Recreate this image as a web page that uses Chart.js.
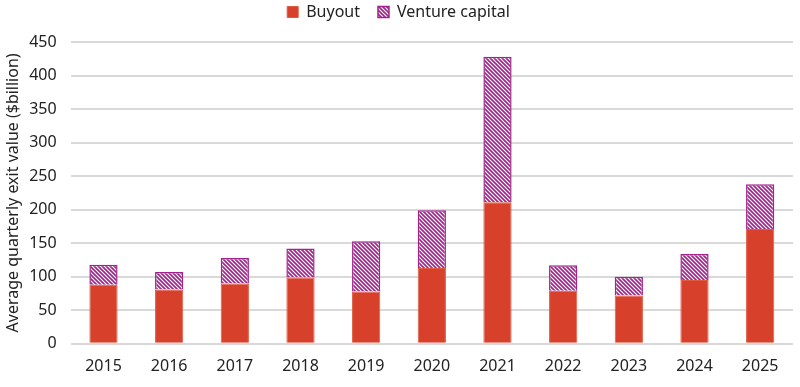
<!DOCTYPE html>
<html>
<head>
<meta charset="utf-8">
<script src="https://cdn.jsdelivr.net/npm/chart.js@4"></script>
<style>
  html, body { margin: 0; padding: 0; background: #fff; }
  #wrap { width: 800px; height: 387px; }
</style>
</head>
<body>
<div id="wrap"><canvas id="exits"></canvas></div>
<script>
const years = ['2015', '2016', '2017', '2018', '2019', '2020', '2021', '2022', '2023', '2024', '2025'];
const buyout = [88, 81, 90, 99, 78, 113, 211, 79, 72, 95, 171];
const ventureCapital = [30, 26, 38, 43, 75, 86, 217, 38, 28, 39, 67];
const yTicks = [0, 50, 100, 150, 200, 250, 300, 350, 400, 450];

const RED = '#d7402a';
const PURPLE = '#a2238e';

function makeHatch() {
    const size = 4;
    const c = document.createElement('canvas');
    c.width = size;
    c.height = size;
    const g = c.getContext('2d');
    g.fillStyle = '#fff';
    g.fillRect(0, 0, size, size);
    g.strokeStyle = PURPLE;
    g.lineWidth = 1.7;
    g.beginPath();
    g.moveTo(-1, -1); g.lineTo(size + 1, size + 1);
    g.moveTo(-1, size - 1); g.lineTo(1, size + 1);
    g.moveTo(size - 1, -1); g.lineTo(size + 1, 1);
    g.stroke();
    return g.createPattern(c, 'repeat');
}

// extra gap between the legend and the plot area
const legendGap = {
    id: 'legendGap',
    beforeInit(chart) {
        const fit = chart.legend.fit;
        chart.legend.fit = function () {
            fit.call(this);
            this.height += 12;
        };
    }
};

const font = "'Noto Sans', 'Open Sans', sans-serif";
Chart.defaults.font.family = font;
Chart.defaults.color = '#222';

new Chart(document.getElementById('exits'), {
    type: 'bar',
    data: {
        labels: years,
        datasets: [
            {
                label: 'Buyout',
                data: buyout,
                backgroundColor: RED,
                borderColor: '#e05a40',
                borderWidth: 1,
                categoryPercentage: 0.86,
                barPercentage: 0.5
            },
            {
                label: 'Venture capital',
                data: ventureCapital,
                backgroundColor: makeHatch(),
                borderColor: PURPLE,
                borderWidth: 1.5,
                categoryPercentage: 0.86,
                barPercentage: 0.5
            }
        ]
    },
    plugins: [legendGap],
    options: {
        responsive: true,
        maintainAspectRatio: false,
        animation: false,
        layout: { padding: { left: 4, right: 7, top: -14, bottom: 6 } },
        scales: {
            x: {
                stacked: true,
                grid: { display: false },
                border: { display: false },
                ticks: { font: { size: 16 }, color: '#222', padding: 5 }
            },
            y: {
                stacked: true,
                min: 0,
                max: 450,
                afterBuildTicks: axis => { axis.ticks = yTicks.map(v => ({ value: v })); },
                grid: { color: '#d9d9d9', lineWidth: 2, drawTicks: false },
                border: { display: false },
                ticks: { font: { size: 16 }, color: '#222', padding: 14 },
                title: {
                    display: true,
                    text: 'Average quarterly exit value ($billion)',
                    font: { size: 16 },
                    color: '#222',
                    padding: { top: 0, bottom: -8 }
                }
            }
        },
        plugins: {
            legend: {
                position: 'top',
                labels: {
                    boxWidth: 11,
                    boxHeight: 11,
                    font: { size: 16 },
                    color: '#222',
                    padding: 18
                }
            },
            tooltip: { enabled: false }
        }
    }
});
</script>
</body>
</html>
